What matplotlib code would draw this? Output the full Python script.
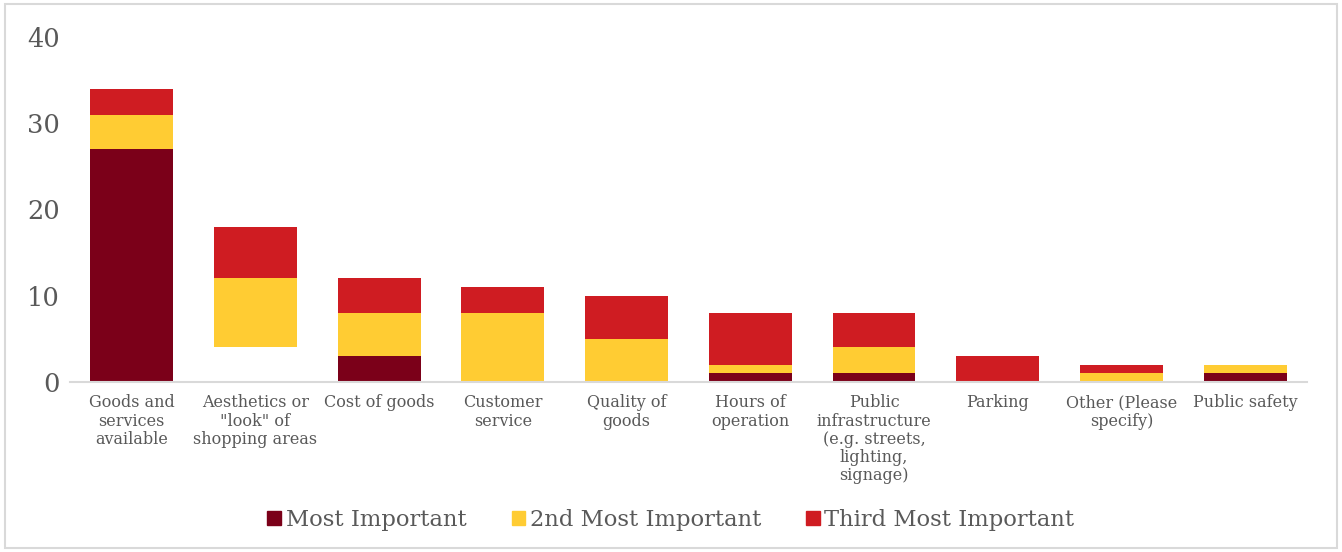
import matplotlib.pyplot as plt
import numpy as np
from matplotlib.patches import Rectangle

plt.rcParams["font.family"] = ["DejaVu Serif"]

categories = ["Goods and\nservices\navailable", "Aesthetics or\n\"look\" of\nshopping areas",
              "Cost of goods", "Customer\nservice", "Quality of\ngoods", "Hours of\noperation",
              "Public\ninfrastructure\n(e.g. streets,\nlighting,\nsignage)", "Parking",
              "Other (Please\nspecify)", "Public safety"]
most = [27, 4, 3, 0, 0, 1, 1, 0, 0, 1]
second = [4, 8, 5, 8, 5, 1, 3, 0, 1, 1]
third = [3, 6, 4, 3, 5, 6, 4, 3, 1, 0]
series_names = ["Most Important", "2nd Most Important", "Third Most Important"]
colors = ["#7B0019", "#FFCC33", "#CF1C22"]
text_color = "#595959"

fig = plt.figure(figsize=(13.42, 5.52), dpi=100)
ax = fig.add_axes([0.052, 0.308, 0.922, 0.625])

x = np.arange(len(categories))
width = 0.67
most_colors = [colors[0]] * len(x)
most_colors[1] = "white"  # this point has its fill switched off
ax.bar(x, most, width, color=most_colors, zorder=2)
ax.bar(x, second, width, bottom=most, color=colors[1], zorder=2)
ax.bar(x, third, width, bottom=np.add(most, second), color=colors[2], zorder=2)

ax.set_xlim(-0.5, len(x) - 0.5)
ax.set_ylim(0, 40)
ax.set_yticks([0, 10, 20, 30, 40])
ax.set_xticks(x, labels=categories)
ax.tick_params(axis="y", length=0, labelsize=18.5, labelcolor=text_color, pad=7)
ax.tick_params(axis="x", length=0, labelsize=11.5, labelcolor=text_color, pad=9)
for lab in ax.get_xticklabels():
    lab.set_linespacing(1.08)

for s in ["top", "right", "left"]:
    ax.spines[s].set_visible(False)
ax.spines["bottom"].set_color("#D9D9D9")
ax.spines["bottom"].set_linewidth(1.5)

handles = [Rectangle((0, 0), 1, 1, color=c) for c in colors]
fig.legend(handles, series_names, loc="center", bbox_to_anchor=(0.5, 0.058), ncol=3,
           frameon=False, fontsize=16.3, labelcolor=text_color, handlelength=0.6,
           handleheight=0.6, handletextpad=0.2, columnspacing=2.0)

fig.patches.append(Rectangle((0.004, 0.007), 0.992, 0.986, transform=fig.transFigure,
                             fill=False, edgecolor="#D9D9D9", linewidth=1.5))

fig.savefig("out.png", dpi=100)
